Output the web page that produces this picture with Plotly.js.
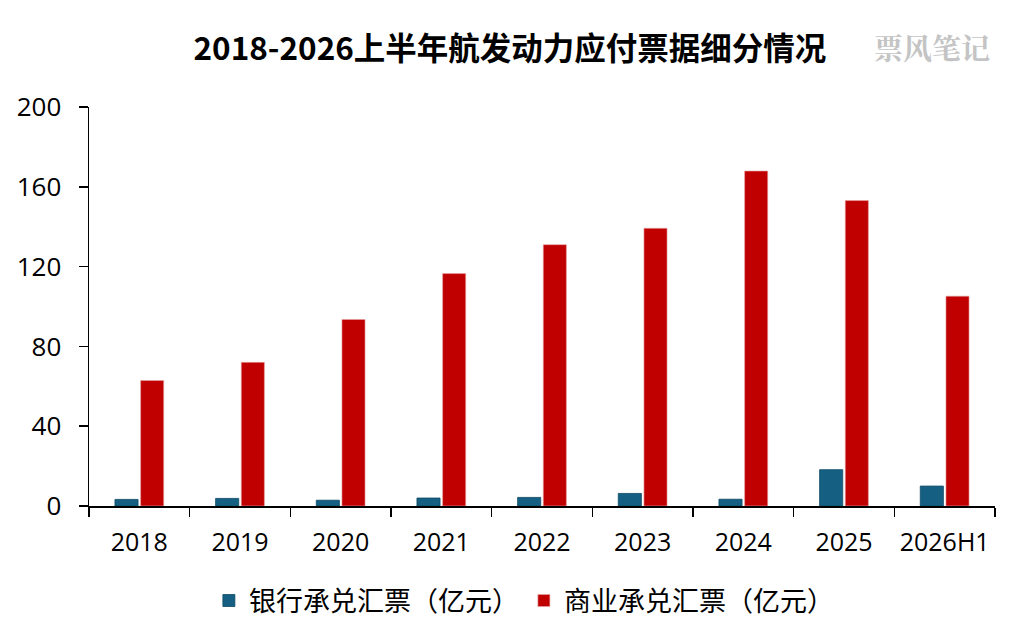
<!DOCTYPE html>
<html>
<head>
<meta charset="utf-8">
<script src="https://cdn.plot.ly/plotly-3.0.1.min.js"></script>
<style>
  html, body { margin: 0; padding: 0; background: #fff; }
  #chart { width: 1024px; height: 641px; }
</style>
</head>
<body>
<div id="chart"></div>
<script>
// categories and series (亿元)
var years = [ '2018', '2019', '2020', '2021', '2022', '2023', '2024', '2025', '2026H1' ];
var bankBills = [ 3.3, 3.8, 2.9, 4.0, 4.3, 6.3, 3.4, 18.2, 10.0 ];
var commercialBills = [ 62.9, 72.0, 93.5, 116.5, 131.0, 139.2, 167.9, 153.1, 105.2 ];
var yTicks = [ 0, 40, 80, 120, 160, 200 ];

var latinFont = '"Open Sans", "Noto Sans", sans-serif';
var cjkFont = '"Noto Sans CJK SC", "Noto Sans", sans-serif';

var traceBank = {
    x: years,
    y: bankBills,
    name: '银行承兑汇票（亿元）',
    type: 'bar',
    marker: { color: '#156082', line: { color: '#0e4a66', width: 0.8 } },
    hoverinfo: 'x+y'
};

var traceCommercial = {
    x: years,
    y: commercialBills,
    name: '商业承兑汇票（亿元）',
    type: 'bar',
    marker: { color: '#c00000', line: { color: '#e7a3a3', width: 0.6 } },
    hoverinfo: 'x+y'
};

var layout = {
    width: 1024,
    height: 641,
    margin: { l: 89, r: 29, t: 107, b: 135 },
    paper_bgcolor: '#ffffff',
    plot_bgcolor: '#ffffff',
    barmode: 'group',
    bargap: 0.49,
    bargroupgap: 0.1,
    title: {
        text: '<b>2018-2026上半年航发动力应付票据细分情况</b>',
        font: { family: cjkFont, size: 31.5, color: '#000000' },
        x: 0.498,
        xanchor: 'center',
        xref: 'container',
        y: 0.924,
        yanchor: 'middle',
        yref: 'container'
    },
    xaxis: {
        type: 'category',
        showline: true,
        linecolor: '#000000',
        linewidth: 1.5,
        ticks: 'outside',
        tickson: 'boundaries',
        ticklen: 9,
        tickwidth: 1.5,
        tickcolor: '#000000',
        tickangle: 0,
        ticklabelstandoff: 13,
        showgrid: false,
        zeroline: false,
        tickfont: { family: latinFont, size: 25, color: '#000000' },
        fixedrange: true
    },
    yaxis: {
        range: [ 0, 200 ],
        tickvals: yTicks,
        ticktext: yTicks.map(String),
        showline: true,
        linecolor: '#000000',
        linewidth: 1.5,
        ticks: 'outside',
        ticklen: 9,
        tickwidth: 1.5,
        tickcolor: '#000000',
        ticklabelstandoff: 12,
        showgrid: false,
        zeroline: false,
        tickfont: { family: latinFont, size: 26, color: '#000000' },
        fixedrange: true
    },
    legend: {
        orientation: 'h',
        x: 0.48,
        xanchor: 'center',
        y: -0.238,
        yanchor: 'middle',
        font: { family: cjkFont, size: 27, color: '#000000' },
        itemwidth: 30,
        traceorder: 'normal'
    },
    annotations: [
        {
            // watermark at the top right
            text: '<b>票风笔记</b>',
            xref: 'paper',
            yref: 'paper',
            x: 0.93,
            y: 1.148,
            xanchor: 'center',
            yanchor: 'middle',
            showarrow: false,
            font: { family: '"Noto Serif CJK SC", ' + cjkFont, size: 29, color: '#c4c4c4' }
        }
    ],
    showlegend: true
};

Plotly.newPlot( 'chart', [ traceBank, traceCommercial ], layout, { displayModeBar: false, staticPlot: true } );
</script>
</body>
</html>
